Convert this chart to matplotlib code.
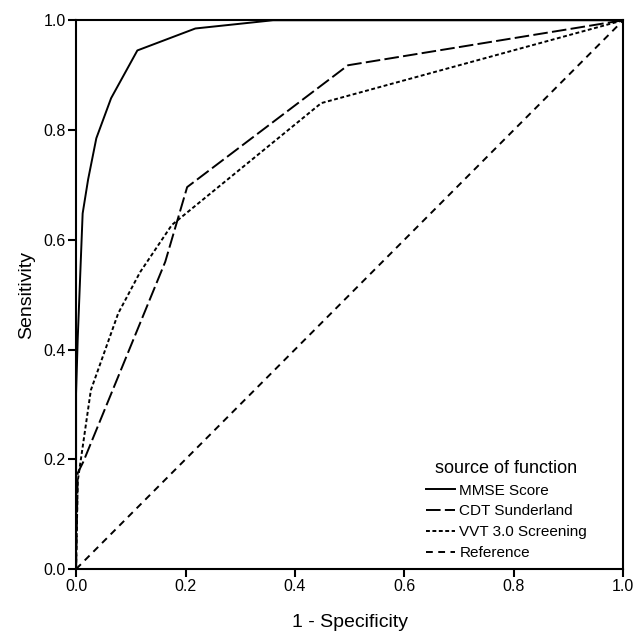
import numpy as np
import matplotlib.pyplot as plt

plt.rcParams['font.family'] = ['Liberation Sans', 'DejaVu Sans']

# ROC curves (1 - specificity, sensitivity)
mmse_fpr = [0.0, 0.0, 0.003, 0.012, 0.022, 0.037, 0.064, 0.112, 0.218, 0.36, 1.0]
mmse_tpr = [0.0, 0.32, 0.42, 0.648, 0.71, 0.785, 0.858, 0.945, 0.985, 1.0, 1.0]

cdt_fpr = [0.0, 0.003, 0.013, 0.163, 0.203, 0.497, 1.0]
cdt_tpr = [0.0, 0.175, 0.195, 0.56, 0.696, 0.918, 1.0]

vvt_fpr = [0.0, 0.003, 0.027, 0.077, 0.117, 0.175, 0.448, 1.0]
vvt_tpr = [0.0, 0.16, 0.326, 0.466, 0.541, 0.627, 0.849, 1.0]

ref_fpr = [0.0, 1.0]
ref_tpr = [0.0, 1.0]

ticks = [0.0, 0.2, 0.4, 0.6, 0.8, 1.0]

fig = plt.figure(figsize=(6.34, 6.33), dpi=100)
ax = fig.add_axes([0.12, 0.101, 0.863, 0.867])

ax.plot(mmse_fpr, mmse_tpr, color='black', lw=1.4, ls='-', label='MMSE Score')
ax.plot(cdt_fpr, cdt_tpr, color='black', lw=1.4, ls=(0, (7.5, 2.2)), label='CDT Sunderland')
ax.plot(vvt_fpr, vvt_tpr, color='black', lw=1.4, ls=(0, (2.0, 1.3)), label='VVT 3.0 Screening')
ax.plot(ref_fpr, ref_tpr, color='black', lw=1.4, ls=(0, (3.5, 2.8)), label='Reference')

ax.set_xlim(0, 1)
ax.set_ylim(0, 1)
ax.set_xticks(ticks)
ax.set_yticks(ticks)
ax.set_xticklabels(['%.1f' % t for t in ticks])
ax.set_yticklabels(['%.1f' % t for t in ticks])
ax.tick_params(direction='out', length=6, width=1.5, labelsize=11.5, pad=1.5)
for s in ax.spines.values():
    s.set_linewidth(1.5)

ax.set_xlabel('1 - Specificity', fontsize=14, labelpad=14)
ax.set_ylabel('Sensitivity', fontsize=14, labelpad=6)

leg = ax.legend(loc='lower right', bbox_to_anchor=(0.945, 0.005), frameon=False,
                title='source of function', fontsize=11, title_fontsize=13,
                handlelength=1.9, handletextpad=0.3, labelspacing=0.45,
                borderaxespad=0)

fig.savefig('out.png', dpi=100)
